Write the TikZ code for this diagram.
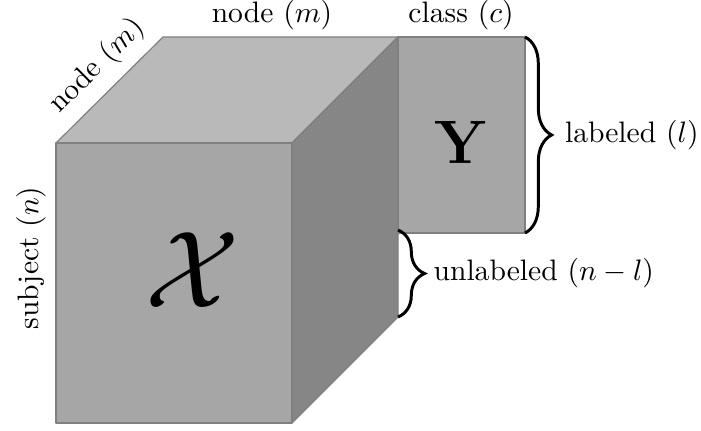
\documentclass[tikz,border=0pt]{standalone}
\usetikzlibrary{decorations.pathreplacing}

\tikzset{
  face/.style={draw=gray, line join=round},
  brace/.style={decorate, decoration={brace, amplitude=9pt}, line width=1pt},
}

\begin{document}
\begin{tikzpicture}[x=0.338pt, y=-0.338pt]
    \useasboundingbox (0,0) rectangle (701,431);
    % corners of the cube
    \coordinate (ftl) at (56,143);
    \coordinate (ftr) at (292,143);
    \coordinate (fbl) at (56,423);
    \coordinate (fbr) at (292,423);
    \coordinate (btl) at (163,37);
    \coordinate (btr) at (398,37);
    \coordinate (bbr) at (398,317);
    % corners of the label block
    \coordinate (ytl) at (398,37);
    \coordinate (ybr) at (525,233);
    \coordinate (ytr) at (525,37);
    \coordinate (ybl) at (398,233);

    \filldraw[face, fill=gray!55] (ftl) -- (btl) -- (btr) -- (ftr) -- cycle;
    \filldraw[face, fill=gray!95] (ftr) -- (btr) -- (bbr) -- (fbr) -- cycle;
    \filldraw[face, fill=gray!70] (ftl) rectangle (fbr);
    \filldraw[face, fill=gray!70] (ytl) rectangle (ybr);

    \node[scale=3.7] (X) at (193,270) {$\mathcal{X}$};
    \node (Y) at (461,142) {\huge$\mathbf{Y}$};

    \node (nodetop) at (272,15) {node $(m)$};
    \node (classtop) at (461,15) {class $(c)$};
    \node[rotate=45] (nodeside) at (97,66) {node $(m)$};
    \node[rotate=90] (subject) at (31,258) {subject $(n)$};

    \draw[brace] (ytr) -- (ybr) coordinate[midway] (lmid);
    \draw[brace] ([yshift=1pt]ybl) -- (bbr) coordinate[midway] (umid);
    \node[anchor=west] (labeled) at ([xshift=10pt]lmid) {labeled $(l)$};
    \node[anchor=west] (unlabeled) at ([xshift=8.5pt]umid) {unlabeled $(n-l)$};
\end{tikzpicture}
\end{document}
